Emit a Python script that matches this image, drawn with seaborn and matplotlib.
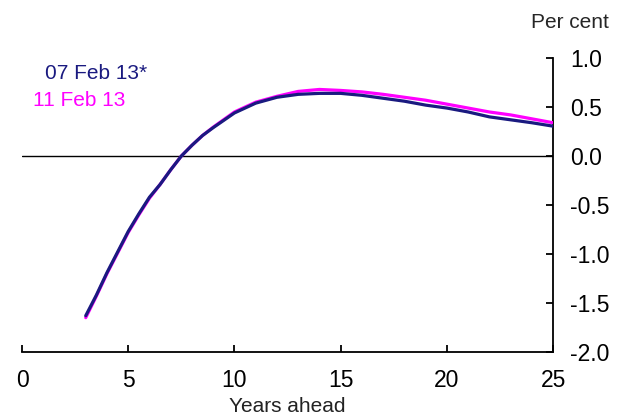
import matplotlib
matplotlib.use('Agg')
import matplotlib.pyplot as plt
import numpy as np
import pandas as pd
import seaborn as sns

# Years ahead and curve values (per cent)
years = [3, 3.5, 4, 4.5, 5, 5.5, 6, 6.5, 7, 7.5, 8, 8.5, 9, 10, 11, 12, 13, 14,
         15, 16, 17, 18, 19, 20, 21, 22, 23, 24, 25]
feb07 = [-1.63, -1.42, -1.19, -0.98, -0.77, -0.59, -0.42, -0.29, -0.14, 0.0,
         0.11, 0.21, 0.29, 0.44, 0.54, 0.60, 0.63, 0.64, 0.64, 0.62, 0.59,
         0.56, 0.52, 0.49, 0.45, 0.40, 0.37, 0.34, 0.305]
feb11 = [-1.65, -1.43, -1.20, -0.99, -0.78, -0.60, -0.43, -0.29, -0.14, 0.0,
         0.11, 0.21, 0.295, 0.45, 0.55, 0.61, 0.66, 0.68, 0.67, 0.655, 0.63,
         0.60, 0.57, 0.53, 0.49, 0.45, 0.42, 0.38, 0.34]
labels = ["07 Feb 13*", "11 Feb 13"]
colors = ["#1a1a80", "#ff00ff"]

df = pd.DataFrame({
    "year": years * 2,
    "value": feb07 + feb11,
    "series": [labels[0]] * len(years) + [labels[1]] * len(years),
})

sns.set_style("white")
plt.rcParams['font.family'] = ['Liberation Sans', 'DejaVu Sans']

fig = plt.figure(figsize=(6.18, 4.18), dpi=100)
ax = fig.add_axes([0.0356, 0.158, 0.895 - 0.0356, 0.861 - 0.158])

ax.axhline(0, color="black", lw=1.0, zorder=1)
sns.lineplot(data=df, x="year", y="value", hue="series", hue_order=labels[::-1],
             palette=dict(zip(labels, colors)), lw=2.3, ax=ax, legend=False,
             zorder=3)

ax.set_xlim(0, 25)
ax.set_ylim(-2.0, 1.0)
ax.set_xticks(np.arange(0, 26, 5))
ax.set_yticks(np.arange(-2.0, 1.01, 0.5))
ax.set_yticklabels([f"{v:.1f}" for v in np.arange(-2.0, 1.01, 0.5)])

ax.yaxis.tick_right()
for side in ["left", "top"]:
    ax.spines[side].set_visible(False)
for side in ["right", "bottom"]:
    ax.spines[side].set_color("black")
    ax.spines[side].set_linewidth(1.3)
ax.tick_params(axis="both", direction="in", length=5, width=1.3,
               colors="black", labelsize=16.5, pad=12)
ax.tick_params(axis="y", right=True, left=False)
ax.tick_params(axis="x", bottom=True)

ax.set_xlabel("Years ahead", fontsize=15, labelpad=4)
ax.set_ylabel("")
ax.xaxis.label.set_color("#222222")

fig.text(0.985, 0.945, "Per cent", ha="right", va="center", fontsize=15)
fig.text(0.073, 0.823, labels[0], color=colors[0], fontsize=15, va="center")
fig.text(0.053, 0.760, labels[1], color=colors[1], fontsize=15, va="center")

fig.savefig("out.png", dpi=100)
